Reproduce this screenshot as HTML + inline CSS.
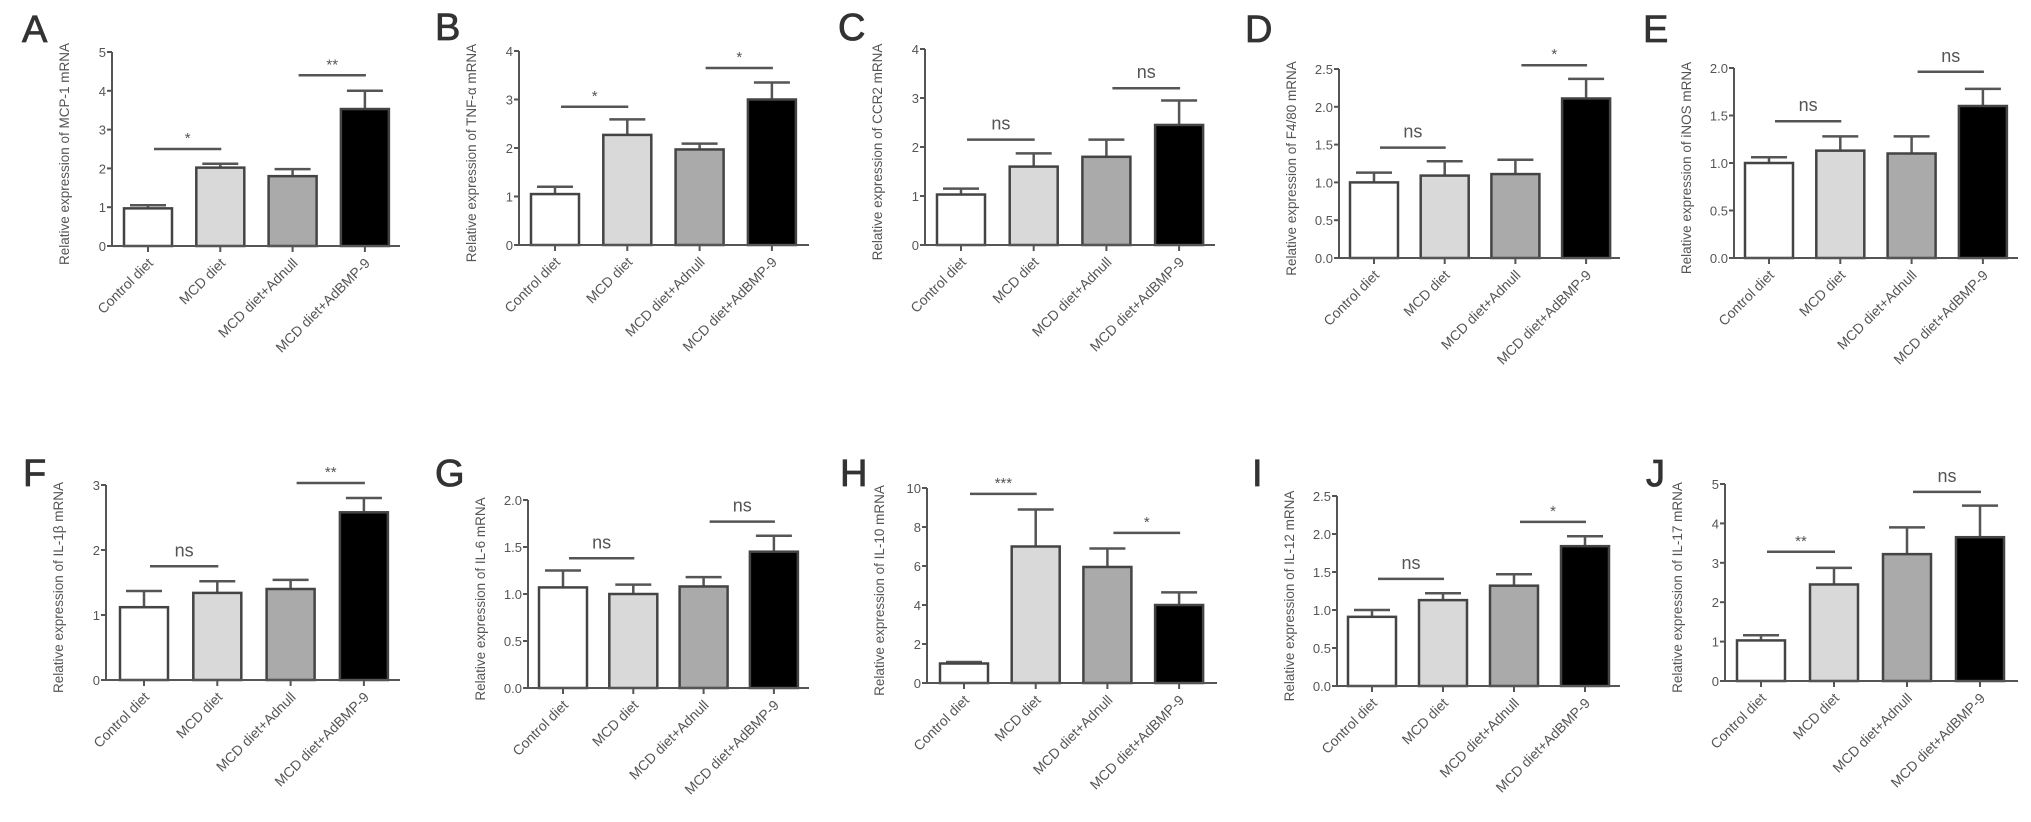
<!DOCTYPE html>
<html><head><meta charset="utf-8">
<style>
html,body{margin:0;padding:0;background:#fff;}
svg{display:block;font-family:"Liberation Sans",Arial,sans-serif;}
</style></head>
<body>
<svg id="fig" width="2031" height="822" viewBox="0 0 2031 822" xmlns="http://www.w3.org/2000/svg"></svg>
<script>
const categories = ["Control diet","MCD diet","MCD diet+Adnull","MCD diet+AdBMP-9"];
const fills = ["#ffffff","#d9d9d9","#aaaaaa","#000000"];

const titles = {A:"Relative expression of MCP-1 mRNA",B:"Relative expression of TNF-\u03b1  mRNA",C:"Relative expression of CCR2 mRNA",D:"Relative expression of F4/80 mRNA",E:"Relative expression of iNOS mRNA",F:"Relative expression of IL-1\u03b2  mRNA",G:"Relative expression of IL-6 mRNA",H:"Relative expression of IL-10 mRNA",I:"Relative expression of IL-12 mRNA",J:"Relative expression of IL-17 mRNA"};

const valuesA = [0.97, 2.02, 1.80, 3.53];
const errorsA = [0.08, 0.10, 0.18, 0.47];
const valuesB = [1.05, 2.27, 1.97, 3.00];
const errorsB = [0.15, 0.32, 0.12, 0.35];
const valuesC = [1.03, 1.60, 1.80, 2.45];
const errorsC = [0.12, 0.27, 0.35, 0.50];
const valuesD = [1.00, 1.09, 1.11, 2.11];
const errorsD = [0.13, 0.19, 0.19, 0.26];
const valuesE = [1.00, 1.13, 1.10, 1.60];
const errorsE = [0.06, 0.15, 0.18, 0.18];
const valuesF = [1.12, 1.34, 1.40, 2.58];
const errorsF = [0.25, 0.18, 0.14, 0.22];
const valuesG = [1.07, 1.00, 1.08, 1.45];
const errorsG = [0.18, 0.10, 0.10, 0.17];
const valuesH = [1.00, 7.00, 5.95, 4.00];
const errorsH = [0.08, 1.90, 0.95, 0.65];
const valuesI = [0.91, 1.13, 1.32, 1.84];
const errorsI = [0.09, 0.09, 0.15, 0.13];
const valuesJ = [1.03, 2.45, 3.22, 3.65];
const errorsJ = [0.13, 0.42, 0.68, 0.80];

const ticks5 = ["0","1","2","3","4","5"];
const ticks4 = ["0","1","2","3","4"];
const ticks3 = ["0","1","2","3"];
const ticks25 = ["0.0","0.5","1.0","1.5","2.0","2.5"];
const ticks20 = ["0.0","0.5","1.0","1.5","2.0"];
const ticks10 = ["0","2","4","6","8","10"];

const sigA = [[0,1,2.5,"*"],[2,3,4.4,"**"]];
const sigB = [[0,1,2.85,"*"],[2,3,3.65,"*"]];
const sigC = [[0,1,2.15,"ns"],[2,3,3.2,"ns"]];
const sigD = [[0,1,1.46,"ns"],[2,3,2.55,"*"]];
const sigE = [[0,1,1.44,"ns"],[2,3,1.96,"ns"]];
const sigF = [[0,1,1.75,"ns"],[2,3,3.03,"**"]];
const sigG = [[0,1,1.38,"ns"],[2,3,1.77,"ns"]];
const sigH = [[0,1,9.7,"***"],[2,3,7.7,"*"]];
const sigI = [[0,1,1.41,"ns"],[2,3,2.16,"*"]];
const sigJ = [[0,1,3.28,"**"],[2,3,4.8,"ns"]];

const data = {
 A:[valuesA,errorsA,ticks5,sigA], B:[valuesB,errorsB,ticks4,sigB], C:[valuesC,errorsC,ticks4,sigC],
 D:[valuesD,errorsD,ticks25,sigD], E:[valuesE,errorsE,ticks20,sigE], F:[valuesF,errorsF,ticks3,sigF],
 G:[valuesG,errorsG,ticks20,sigG], H:[valuesH,errorsH,ticks10,sigH], I:[valuesI,errorsI,ticks25,sigI],
 J:[valuesJ,errorsJ,ticks5,sigJ]
};

const layout = {
 A:[112,246,52,148,72.3,400,22,42], B:[519,245,51,555,72.3,809,435,40], C:[925,245,49,961,72.7,1215,838,40],
 D:[1339,258,69,1374,70.7,1620,1245,42], E:[1734,258,68,1769,71.3,2018,1643,42],
 F:[106,680,485,144,73.3,400,23,486], G:[528,688,500,563,70.3,809,435,486], H:[927,683,488,964,71.7,1217,840,486],
 I:[1337,686,496,1372,71,1620,1252,486], J:[1725,681,484,1761,73,2018,1646,486]
};

const NS = "http://www.w3.org/2000/svg";
const svg = document.getElementById("fig");
function mk(tag, attrs, parent, text){
  const e = document.createElementNS(NS, tag);
  for (const k in attrs) e.setAttribute(k, attrs[k]);
  if (text !== undefined) e.textContent = text;
  parent.appendChild(e);
  return e;
}
const AX = "#555";

for (const key of Object.keys(layout)){
  const [vals, errs, ticks, sigs] = data[key];
  const [ax, y0, yTop, c0, sp, axEnd, lx, ly] = layout[key];
  const yMax = parseFloat(ticks[ticks.length-1]);
  const yScale = v => y0 - (v / yMax) * (y0 - yTop);
  const xScale = i => c0 + i * sp;
  const bw = 48;

  const g = mk("g", {}, svg);
  
  

  const pl = mk("text", {x: lx, y: ly, "font-size": 38, fill: "#333", stroke: "#333", "stroke-width": 0.8}, g, key);
  
  

  vals.forEach((v, i) => {
    const cx = xScale(i);
    const top = yScale(v + errs[i]);
    const eb = mk("path", {d: `M${cx},${yScale(v)}V${top}M${cx-18},${top}H${cx+18}`, stroke: AX, "stroke-width": 2.5, fill: "none"}, g);
    
    
    const r = mk("rect", {x: cx - bw/2, y: yScale(v), width: bw, height: y0 - yScale(v), fill: fills[i], stroke: "#444", "stroke-width": 2.5}, g);
    
    
  });

  const yAxis = mk("line", {x1: ax, y1: yTop, x2: ax, y2: y0, stroke: AX, "stroke-width": 2}, g);
  
  
  const xAxis = mk("line", {x1: ax, y1: y0, x2: axEnd, y2: y0, stroke: AX, "stroke-width": 2}, g);
  
  

  ticks.forEach(t => {
    const y = yScale(parseFloat(t));
    mk("line", {x1: ax-5, y1: y, x2: ax, y2: y, stroke: AX, "stroke-width": 2}, g);
    const tl = mk("text", {x: ax-6, y: y+5, "font-size": 13, fill: "#555", "text-anchor": "end"}, g, t);
    
    
  });

  categories.forEach((c, i) => {
    const cx = xScale(i);
    mk("line", {x1: cx, y1: y0, x2: cx, y2: y0+6, stroke: AX, "stroke-width": 2}, g);
    const xl = mk("text", {x: cx+6, y: y0+18, "font-size": 14, fill: "#555", "text-anchor": "end", transform: `rotate(-45 ${cx+6} ${y0+18})`}, g, c);
    
    
  });

  const midY = (y0 + yTop) / 2 + 5;
  const yt = mk("text", {x: ax-43, y: midY, "font-size": 13.5, fill: "#555", "text-anchor": "middle", transform: `rotate(-90 ${ax-43} ${midY})`}, g, titles[key]);
  
  

  sigs.forEach(s => {
    const x1 = xScale(s[0]) + 6, x2 = xScale(s[1]) + 1, y = yScale(s[2]);
    const sl = mk("line", {x1: x1, y1: y, x2: x2, y2: y, stroke: AX, "stroke-width": 2.5}, g);
    
    
    const isNs = s[3] === "ns";
    const st = mk("text", {x: (x1+x2)/2, y: isNs ? y-10 : y-6, "font-size": isNs ? 18 : 15, fill: "#555", "text-anchor": "middle"}, g, s[3]);
    
    
  });
}
</script>
</body></html>
